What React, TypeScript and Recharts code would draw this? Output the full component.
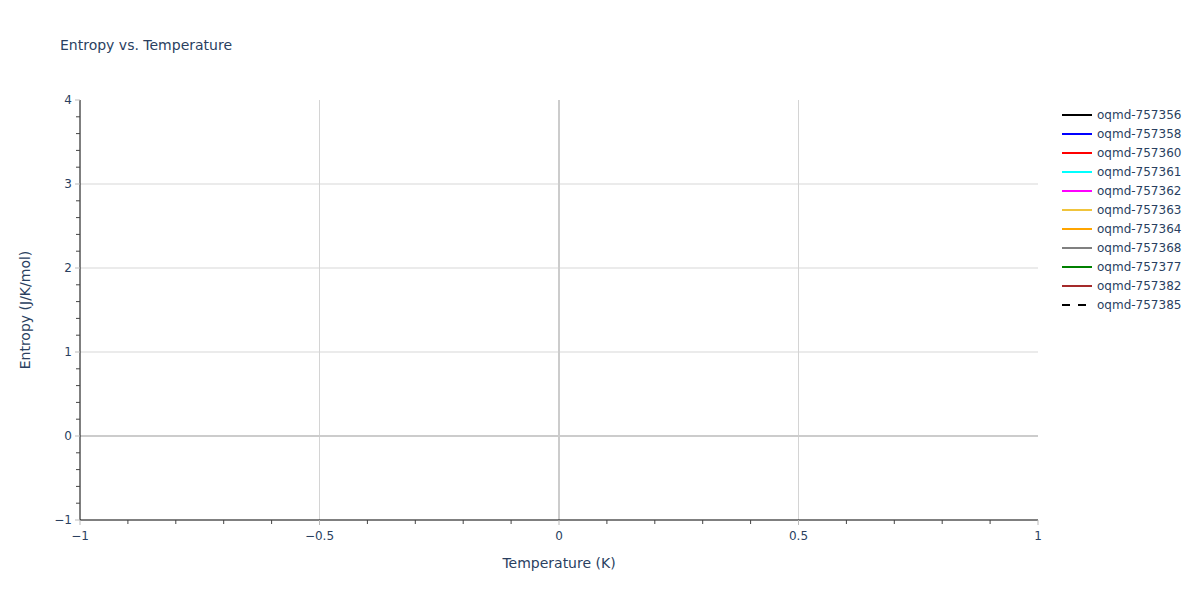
import { Line, LineChart, ReferenceLine, XAxis, YAxis } from "recharts";

type Point = { temperature: number; entropy: number };

const seriesNames = [
  "oqmd-757356",
  "oqmd-757358",
  "oqmd-757360",
  "oqmd-757361",
  "oqmd-757362",
  "oqmd-757363",
  "oqmd-757364",
  "oqmd-757368",
  "oqmd-757377",
  "oqmd-757382",
  "oqmd-757385",
];
const seriesColors = [
  "#000000",
  "#0000ff",
  "#ff0000",
  "#00ffff",
  "#ff00ff",
  "#f0c43c",
  "#ffa500",
  "#808080",
  "#008000",
  "#a52a2a",
  "#000000",
];
const seriesDashed = [false, false, false, false, false, false, false, false, false, false, true];
// every trace in the source is empty
const seriesData: Point[][] = seriesNames.map(() => []);

const xTicks = [-1, -0.5, 0, 0.5, 1];
const xAllTicks = [-1, -0.9, -0.8, -0.7, -0.6, -0.5, -0.4, -0.3, -0.2, -0.1, 0, 0.1, 0.2, 0.3, 0.4, 0.5, 0.6, 0.7, 0.8, 0.9, 1];
const yTicks = [-1, 0, 1, 2, 3, 4];
const yAllTicks = [
  -1, -0.8, -0.6, -0.4, -0.2, 0, 0.2, 0.4, 0.6, 0.8, 1, 1.2, 1.4, 1.6, 1.8, 2, 2.2, 2.4, 2.6, 2.8, 3, 3.2, 3.4, 3.6, 3.8, 4,
];

const FONT = '"DejaVu Sans", Verdana, sans-serif';
const TEXT = "#2a3f5f";

const fmt = (v: number) => String(v).replace("-", "\u2212");

function XTick(props: any) {
  const { x, y, payload } = props;
  const major = xTicks.includes(payload.value);
  return (
    <g>
      <line x1={x} x2={x} y1={y} y2={y + (major ? 5 : 4)} stroke={major ? "#bbb" : "#444"} />
      {major && (
        <text x={x} y={y + 20} textAnchor="middle" fill={TEXT} fontSize={12} fontFamily={FONT}>
          {fmt(payload.value)}
        </text>
      )}
    </g>
  );
}

function YTick(props: any) {
  const { x, y, payload } = props;
  const major = yTicks.includes(payload.value);
  return (
    <g>
      <line x1={x - (major ? 5 : 4)} x2={x} y1={y} y2={y} stroke={major ? "#bbb" : "#444"} />
      {major && (
        <text x={x - 8} y={y + 4} textAnchor="end" fill={TEXT} fontSize={12} fontFamily={FONT}>
          {fmt(payload.value)}
        </text>
      )}
    </g>
  );
}

export default function App() {
  return (
    <div style={{ position: "absolute", left: 0, top: 0, width: 1200, height: 600, background: "#fff", fontFamily: FONT }}>
      <div style={{ position: "absolute", left: 60, top: 37, fontSize: 14, color: TEXT }}>
        Entropy vs. Temperature
      </div>
      <LineChart width={1200} height={600} margin={{ top: 100, right: 162, bottom: 0, left: 0 }}>
        <XAxis
          type="number"
          dataKey="temperature"
          domain={[-1, 1]}
          ticks={xAllTicks}
          interval={0}
          height={80}
          axisLine={{ stroke: "#000", strokeWidth: 1 }}
          tickLine={false}
          tickSize={0}
          tickMargin={0}
          tick={<XTick />}
          label={{ value: "Temperature (K)", position: "insideBottom", offset: 32, fill: TEXT, fontSize: 14, fontFamily: FONT }}
          allowDataOverflow
        />
        <YAxis
          type="number"
          domain={[-1, 4]}
          ticks={yAllTicks}
          interval={0}
          width={80}
          axisLine={{ stroke: "#000", strokeWidth: 1 }}
          tickLine={false}
          tickSize={0}
          tickMargin={0}
          tick={<YTick />}
          label={{ value: "Entropy (J/K/mol)", angle: -90, position: "insideLeft", offset: 25, fill: TEXT, fontSize: 14, fontFamily: FONT, style: { textAnchor: "middle" } }}
          allowDataOverflow
        />
        {[1, 2, 3].map((v) => (
          <ReferenceLine key={"h" + v} y={v} stroke="#ebebeb" strokeWidth={2} />
        ))}
        {[-0.5, 0.5].map((v) => (
          <ReferenceLine key={"v" + v} x={v} stroke="#d4d4d4" strokeWidth={1} />
        ))}
        <ReferenceLine y={0} stroke="#cccccc" strokeWidth={2} />
        <ReferenceLine x={0} stroke="#cccccc" strokeWidth={2} />
        {seriesNames.map((name, i) => (
          <Line
            key={name}
            data={seriesData[i]}
            dataKey="entropy"
            name={name}
            stroke={seriesColors[i]}
            strokeWidth={2}
            strokeDasharray={seriesDashed[i] ? "6 6" : undefined}
            dot={false}
            isAnimationActive={false}
          />
        ))}
      </LineChart>
      <div style={{ position: "absolute", left: 1062, top: 105 }}>
        {seriesNames.map((name, i) => (
          <div key={name} style={{ display: "flex", alignItems: "center", height: 19, fontSize: 12, color: TEXT }}>
            <svg width={30} height={4} style={{ marginRight: 5 }}>
              <line
                x1={0}
                x2={30}
                y1={2}
                y2={2}
                stroke={seriesColors[i]}
                strokeWidth={2}
                strokeDasharray={seriesDashed[i] ? "8 8" : undefined}
              />
            </svg>
            {name}
          </div>
        ))}
      </div>
    </div>
  );
}
